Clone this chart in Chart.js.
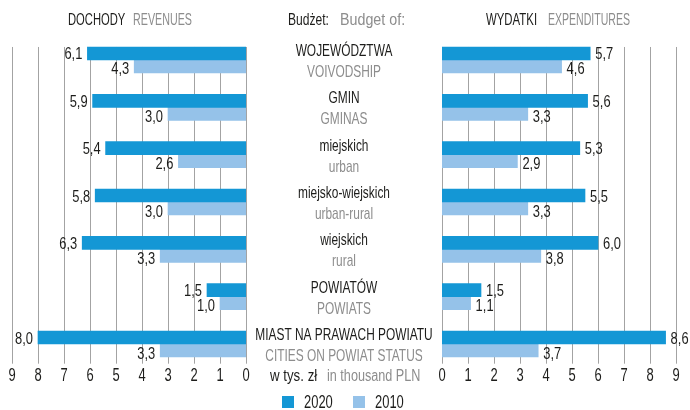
<!DOCTYPE html>
<html>
<head>
<meta charset="utf-8">
<script src="https://cdn.jsdelivr.net/npm/chart.js@4.4.0/dist/chart.umd.min.js"></script>
<style>
  html, body { margin: 0; padding: 0; background: #fff; }
  #wrap { position: relative; width: 690px; height: 410px; overflow: hidden;
          font-family: "Liberation Sans", Arial, sans-serif; }
  #wrap canvas { position: absolute; left: 0; top: 0; }
  .t { position: absolute; display: inline-block; white-space: nowrap; line-height: 1;
       transform-origin: 0 0; }
  .h { font-size: 17px; top: 10.6px; }
  .u { font-size: 16px; top: 367.5px; }
  .k { color: #1d1d1b; }
  .g { color: #8d8d8d; }
  .sw { position: absolute; width: 12px; height: 12px; top: 396px; }
  .lt { position: absolute; font-size: 18px; line-height: 1; top: 392.8px; color: #1d1d1b;
        transform: scaleX(0.72); transform-origin: 0 0; white-space: nowrap; }
</style>
</head>
<body>
<div id="wrap">
  <canvas id="rev" width="690" height="410"></canvas>
  <canvas id="exp" width="690" height="410"></canvas>

  <span class="t h k" style="left:68px;transform:scaleX(0.66)">DOCHODY</span>
  <span class="t h g" style="left:133px;transform:scaleX(0.63)">REVENUES</span>
  <span class="t h k" style="left:288px;transform:scaleX(0.71)">Budżet:</span>
  <span class="t h g" style="left:340px;transform:scaleX(0.84)">Budget of:</span>
  <span class="t h k" style="left:486px;transform:scaleX(0.67)">WYDATKI</span>
  <span class="t h g" style="left:548px;transform:scaleX(0.62)">EXPENDITURES</span>

  <span class="t u k" style="left:270px;transform:scaleX(0.83)">w tys. zł</span>
  <span class="t u g" style="left:327px;transform:scaleX(0.79)">in thousand PLN</span>
</div>

<script>
// Budget categories (Polish name + English name)
const categoriesPL = ['WOJEWÓDZTWA', 'GMIN', 'miejskich', 'miejsko-wiejskich', 'wiejskich', 'POWIATÓW', 'MIAST NA PRAWACH POWIATU'];
const categoriesEN = ['VOIVODSHIP', 'GMINAS', 'urban', 'urban-rural', 'rural', 'POWIATS', 'CITIES ON POWIAT STATUS'];

// Years shown
const years = ['2020', '2010'];

// Revenues (thousand PLN)
const revenues2020 = [6.1, 5.9, 5.4, 5.8, 6.3, 1.5, 8.0];
const revenues2010 = [4.3, 3.0, 2.6, 3.0, 3.3, 1.0, 3.3];

// Expenditures (thousand PLN)
const expenditures2020 = [5.7, 5.6, 5.3, 5.5, 6.0, 1.5, 8.6];
const expenditures2010 = [4.6, 3.3, 2.9, 3.3, 3.8, 1.1, 3.7];

// Value axis range
const axisMin = 0;
const axisMax = 9;

const FONT = '"Liberation Sans", Arial, sans-serif';
const BLUE = '#1497d5';
const LIGHT = '#95c2e9';
const INK = '#1d1d1b';
const GREY = '#8d8d8d';
const BAR = 13;

Chart.defaults.font.family = FONT;
Chart.defaults.color = INK;

// Condensed text: draw with a horizontal squeeze
function fillNarrow(ctx, text, x, y, align, sx) {
  ctx.save();
  ctx.translate(x, y);
  ctx.scale(sx, 1);
  ctx.textAlign = align;
  ctx.textBaseline = 'alphabetic';
  ctx.fillText(text, 0, 0);
  ctx.restore();
}

// Vertical grid lines spanning the bar rows, plus the value tick labels
const gridLines = {
  id: 'gridLines',
  beforeDatasetsDraw(chart) {
    const { ctx, scales: { x, y }, chartArea } = chart;
    const top = y.getPixelForValue(0) - BAR;
    const bottom = chartArea.bottom - 4;
    ctx.save();
    ctx.strokeStyle = '#a3a3a3';
    ctx.lineWidth = 1;
    ctx.fillStyle = INK;
    ctx.font = '18px ' + FONT;
    x.ticks.forEach(t => {
      const raw = x.getPixelForValue(t.value);
      const px = Math.round(raw) + 0.5;
      ctx.beginPath();
      ctx.moveTo(px, top);
      ctx.lineTo(px, bottom);
      ctx.stroke();
      fillNarrow(ctx, String(t.value), raw, chartArea.bottom + 13, 'center', 0.72);
    });
    ctx.restore();
  }
};

// Numeric labels at the end of each bar
const valueLabels = {
  id: 'valueLabels',
  afterDatasetsDraw(chart, args, opts) {
    const ctx = chart.ctx;
    const left = opts.side === 'left';
    ctx.save();
    ctx.font = '17px ' + FONT;
    ctx.fillStyle = INK;
    chart.data.datasets.forEach((ds, di) => {
      chart.getDatasetMeta(di).data.forEach((bar, i) => {
        const txt = ds.data[i].toFixed(1).replace('.', ',');
        const x = left ? bar.x - 5 : bar.x + 5;
        fillNarrow(ctx, txt, x, bar.y + (di === 1 ? 8 : 6), left ? 'right' : 'left', 0.76);
      });
    });
    ctx.restore();
  }
};

// Category names between the two panels
const centerNames = {
  id: 'centerNames',
  afterDraw(chart, args, opts) {
    if (!opts.show) return;
    const { ctx, scales: { y } } = chart;
    ctx.save();
    ctx.font = '17px ' + FONT;
    categoriesPL.forEach((name, i) => {
      const cy = y.getPixelForValue(i);
      ctx.fillStyle = INK;
      fillNarrow(ctx, name, 344, cy - 4, 'center', 0.70);
      ctx.fillStyle = GREY;
      fillNarrow(ctx, categoriesEN[i], 344, cy + 17, 'center', 0.70);
    });
    ctx.restore();
  }
};

function makePanel(id, d2020, d2010, reverse, padLeft, padRight, side) {
  return new Chart(document.getElementById(id), {
    type: 'bar',
    data: {
      labels: categoriesPL,
      datasets: [
        { label: years[0], data: d2020, backgroundColor: BLUE },
        { label: years[1], data: d2010, backgroundColor: LIGHT }
      ]
    },
    options: {
      indexAxis: 'y',
      responsive: false,
      animation: false,
      devicePixelRatio: 1,
      barThickness: BAR,
      layout: { padding: { left: padLeft, right: padRight, top: 36.3, bottom: 18.3 } },
      scales: {
        x: {
          type: 'linear',
          min: axisMin,
          max: axisMax,
          reverse: reverse,
          grid: { display: false, drawTicks: false },
          border: { display: false },
          ticks: { stepSize: 1, display: false },
          afterFit(scale) { scale.height = 24; }
        },
        y: {
          type: 'category',
          offset: true,
          display: false
        }
      },
      plugins: {
        legend: { display: false },
        tooltip: { enabled: false },
        valueLabels: { side: side },
        centerNames: { show: side === 'right' }
      }
    },
    plugins: [gridLines, valueLabels, centerNames]
  });
}

const revChart = makePanel('rev', revenues2020, revenues2010, true, 12, 690 - 246, 'left');
const expChart = makePanel('exp', expenditures2020, expenditures2010, false, 442, 690 - 676, 'right');

// Legend built from the dataset labels and colours
const wrap = document.getElementById('wrap');
expChart.data.datasets.forEach((ds, i) => {
  const x0 = 282 + i * 71;
  const sw = document.createElement('span');
  sw.className = 'sw';
  sw.style.left = x0 + 'px';
  sw.style.background = ds.backgroundColor;
  const tx = document.createElement('span');
  tx.className = 'lt';
  tx.style.left = (x0 + 22) + 'px';
  tx.textContent = ds.label;
  wrap.appendChild(sw);
  wrap.appendChild(tx);
});
</script>
</body>
</html>
